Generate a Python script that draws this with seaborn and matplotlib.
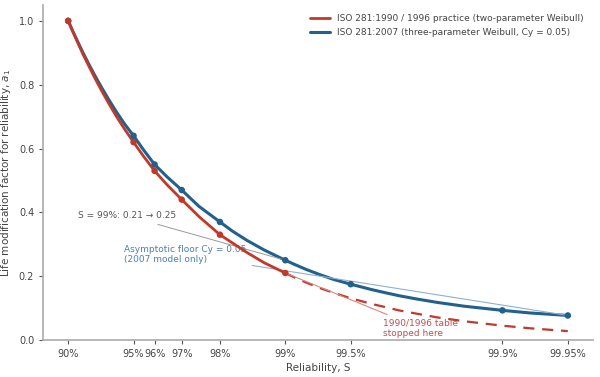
import numpy as np
import pandas as pd
import matplotlib
matplotlib.use("Agg")
import matplotlib.pyplot as plt
import seaborn as sns

# ---- data ----
# tabulated points (markers)
rel_2007 = [90, 95, 96, 97, 98, 99, 99.5, 99.9, 99.95]
a1_2007 = [1.00, 0.64, 0.55, 0.47, 0.37, 0.25, 0.175, 0.093, 0.077]
rel_1990 = [90, 95, 96, 97, 98, 99]
a1_1990 = [1.00, 0.62, 0.53, 0.44, 0.33, 0.21]

# points
curve_rel_2007 = [90, 90.5, 91, 91.5, 92, 92.5, 93, 93.5, 94, 94.5, 95, 95.5, 96,
                  96.5, 97, 97.5, 98, 98.25, 98.5, 98.75, 99, 99.1, 99.2, 99.3,
                  99.4, 99.5, 99.6, 99.65, 99.7, 99.75, 99.8, 99.85, 99.9,
                  99.925, 99.95]
curve_a1_2007 = [1.000, 0.966, 0.932, 0.897, 0.862, 0.826, 0.790, 0.753, 0.715,
                 0.677, 0.640, 0.596, 0.550, 0.511, 0.470, 0.419, 0.370, 0.341,
                 0.312, 0.282, 0.250, 0.236, 0.221, 0.206, 0.190, 0.175, 0.158,
                 0.149, 0.139, 0.129, 0.118, 0.106, 0.093, 0.085, 0.077]
curve_rel_1990 = [90, 90.5, 91, 91.5, 92, 92.5, 93, 93.5, 94, 94.5, 95, 95.5, 96,
                  96.5, 97, 97.5, 98, 98.25, 98.5, 98.75, 99]
curve_a1_1990 = [1.000, 0.965, 0.929, 0.892, 0.856, 0.818, 0.780, 0.741, 0.701,
                 0.661, 0.620, 0.576, 0.530, 0.486, 0.440, 0.387, 0.330, 0.304,
                 0.274, 0.242, 0.210]
# dashed continuation beyond the 1990/1996 table
ext_rel_1990 = [99, 99.1, 99.2, 99.3, 99.4, 99.5, 99.6, 99.65, 99.7, 99.75, 99.8,
                99.85, 99.9, 99.925, 99.95]
ext_a1_1990 = [0.210, 0.195, 0.180, 0.164, 0.148, 0.131, 0.113, 0.104, 0.093,
               0.083, 0.071, 0.059, 0.045, 0.037, 0.028]

tick_rel = [90, 95, 96, 97, 98, 99, 99.5, 99.9, 99.95]
tick_labels = ["90%", "95%", "96%", "97%", "98%", "99%", "99.5%", "99.9%", "99.95%"]

label_1990 = "ISO 281:1990 / 1996 practice (two-parameter Weibull)"
label_2007 = "ISO 281:2007 (three-parameter Weibull, Cy = 0.05)"

RED = "#c0392b"
BLUE = "#21618c"


def fail(r):
    # failure probability in percent (plotted on an inverted log axis)
    return 100 - np.asarray(r, dtype=float)


sns.set_theme(style="ticks")
plt.rcParams["font.family"] = ["DejaVu Sans"]

fig = plt.figure(figsize=(6.0, 3.77), dpi=100)
ax = fig.add_axes([0.072, 0.098, 0.916, 0.889])

df_c90 = pd.DataFrame({"x": fail(curve_rel_1990), "y": curve_a1_1990})
df_c07 = pd.DataFrame({"x": fail(curve_rel_2007), "y": curve_a1_2007})
df_e90 = pd.DataFrame({"x": fail(ext_rel_1990), "y": ext_a1_1990})
df_m90 = pd.DataFrame({"x": fail(rel_1990), "y": a1_1990})
df_m07 = pd.DataFrame({"x": fail(rel_2007), "y": a1_2007})

sns.lineplot(data=df_c90, x="x", y="y", ax=ax, color=RED, lw=2.0,
             label=label_1990, sort=False, zorder=4, estimator=None)
sns.lineplot(data=df_c07, x="x", y="y", ax=ax, color=BLUE, lw=2.2,
             label=label_2007, sort=False, zorder=3, estimator=None)
sns.lineplot(data=df_e90, x="x", y="y", ax=ax, color=RED, lw=1.6,
             linestyle=(0, (5, 3.5)), sort=False, zorder=2, estimator=None,
             legend=False)
sns.scatterplot(data=df_m07, x="x", y="y", ax=ax, color=BLUE, s=22,
                edgecolor="none", zorder=5, legend=False)
sns.scatterplot(data=df_m90, x="x", y="y", ax=ax, color=RED, s=22,
                edgecolor="none", zorder=6, legend=False)

ax.set_xscale("log")
ax.invert_xaxis()
ax.set_xticks(fail(tick_rel))
ax.set_xticklabels(tick_labels)
ax.xaxis.set_minor_locator(matplotlib.ticker.NullLocator())
ax.set_ylim(0, 1.05)
ax.set_yticks([0.0, 0.2, 0.4, 0.6, 0.8, 1.0])
ax.set_yticklabels(["0.0", "0.2", "0.4", "0.6", "0.8", "1.0"])

ax.set_xlabel("Reliability, S", fontsize=7.5, color="#444444", labelpad=3)
ax.set_ylabel("Life modification factor for reliability, $a_1$", fontsize=7.5,
              color="#444444", labelpad=4)
ax.tick_params(axis="both", labelsize=7, colors="#555555", length=3, width=0.8)
for lab in ax.get_xticklabels() + ax.get_yticklabels():
    lab.set_color("#444444")
sns.despine(ax=ax)
for s in ("left", "bottom"):
    ax.spines[s].set_color("#aaaaaa")
    ax.spines[s].set_linewidth(1.2)

leg = ax.legend(loc="upper right", frameon=False, fontsize=6.5,
                handlelength=2.2, borderaxespad=0.6, labelspacing=0.55)
for t in leg.get_texts():
    t.set_color("#444444")

# annotations
ax.annotate("S = 99%: 0.21 \u2192 0.25", xy=(1.0, 0.25), xytext=(5.33, 0.389),
            ha="center", va="center", fontsize=6.5, color="#555555",
            arrowprops=dict(arrowstyle="-", color="#999999", lw=0.7,
                            shrinkA=2, shrinkB=3))
ax.annotate("Asymptotic floor Cy = 0.05\n(2007 model only)", xy=(0.05, 0.077),
            xytext=(5.55, 0.267), ha="left", va="center", fontsize=6.5,
            color="#4a7fb0", linespacing=1.1,
            arrowprops=dict(arrowstyle="-", color="#8fb0cf", lw=0.8,
                            shrinkA=2, shrinkB=2))
ax.annotate("1990/1996 table\nstopped here", xy=(1.0, 0.21),
            xytext=(0.354, 0.037), ha="left", va="center", fontsize=6.5,
            color="#c0504d", linespacing=1.1,
            arrowprops=dict(arrowstyle="-", color="#d98880", lw=0.8,
                            shrinkA=2, shrinkB=2))

fig.savefig("out.png", dpi=100)
